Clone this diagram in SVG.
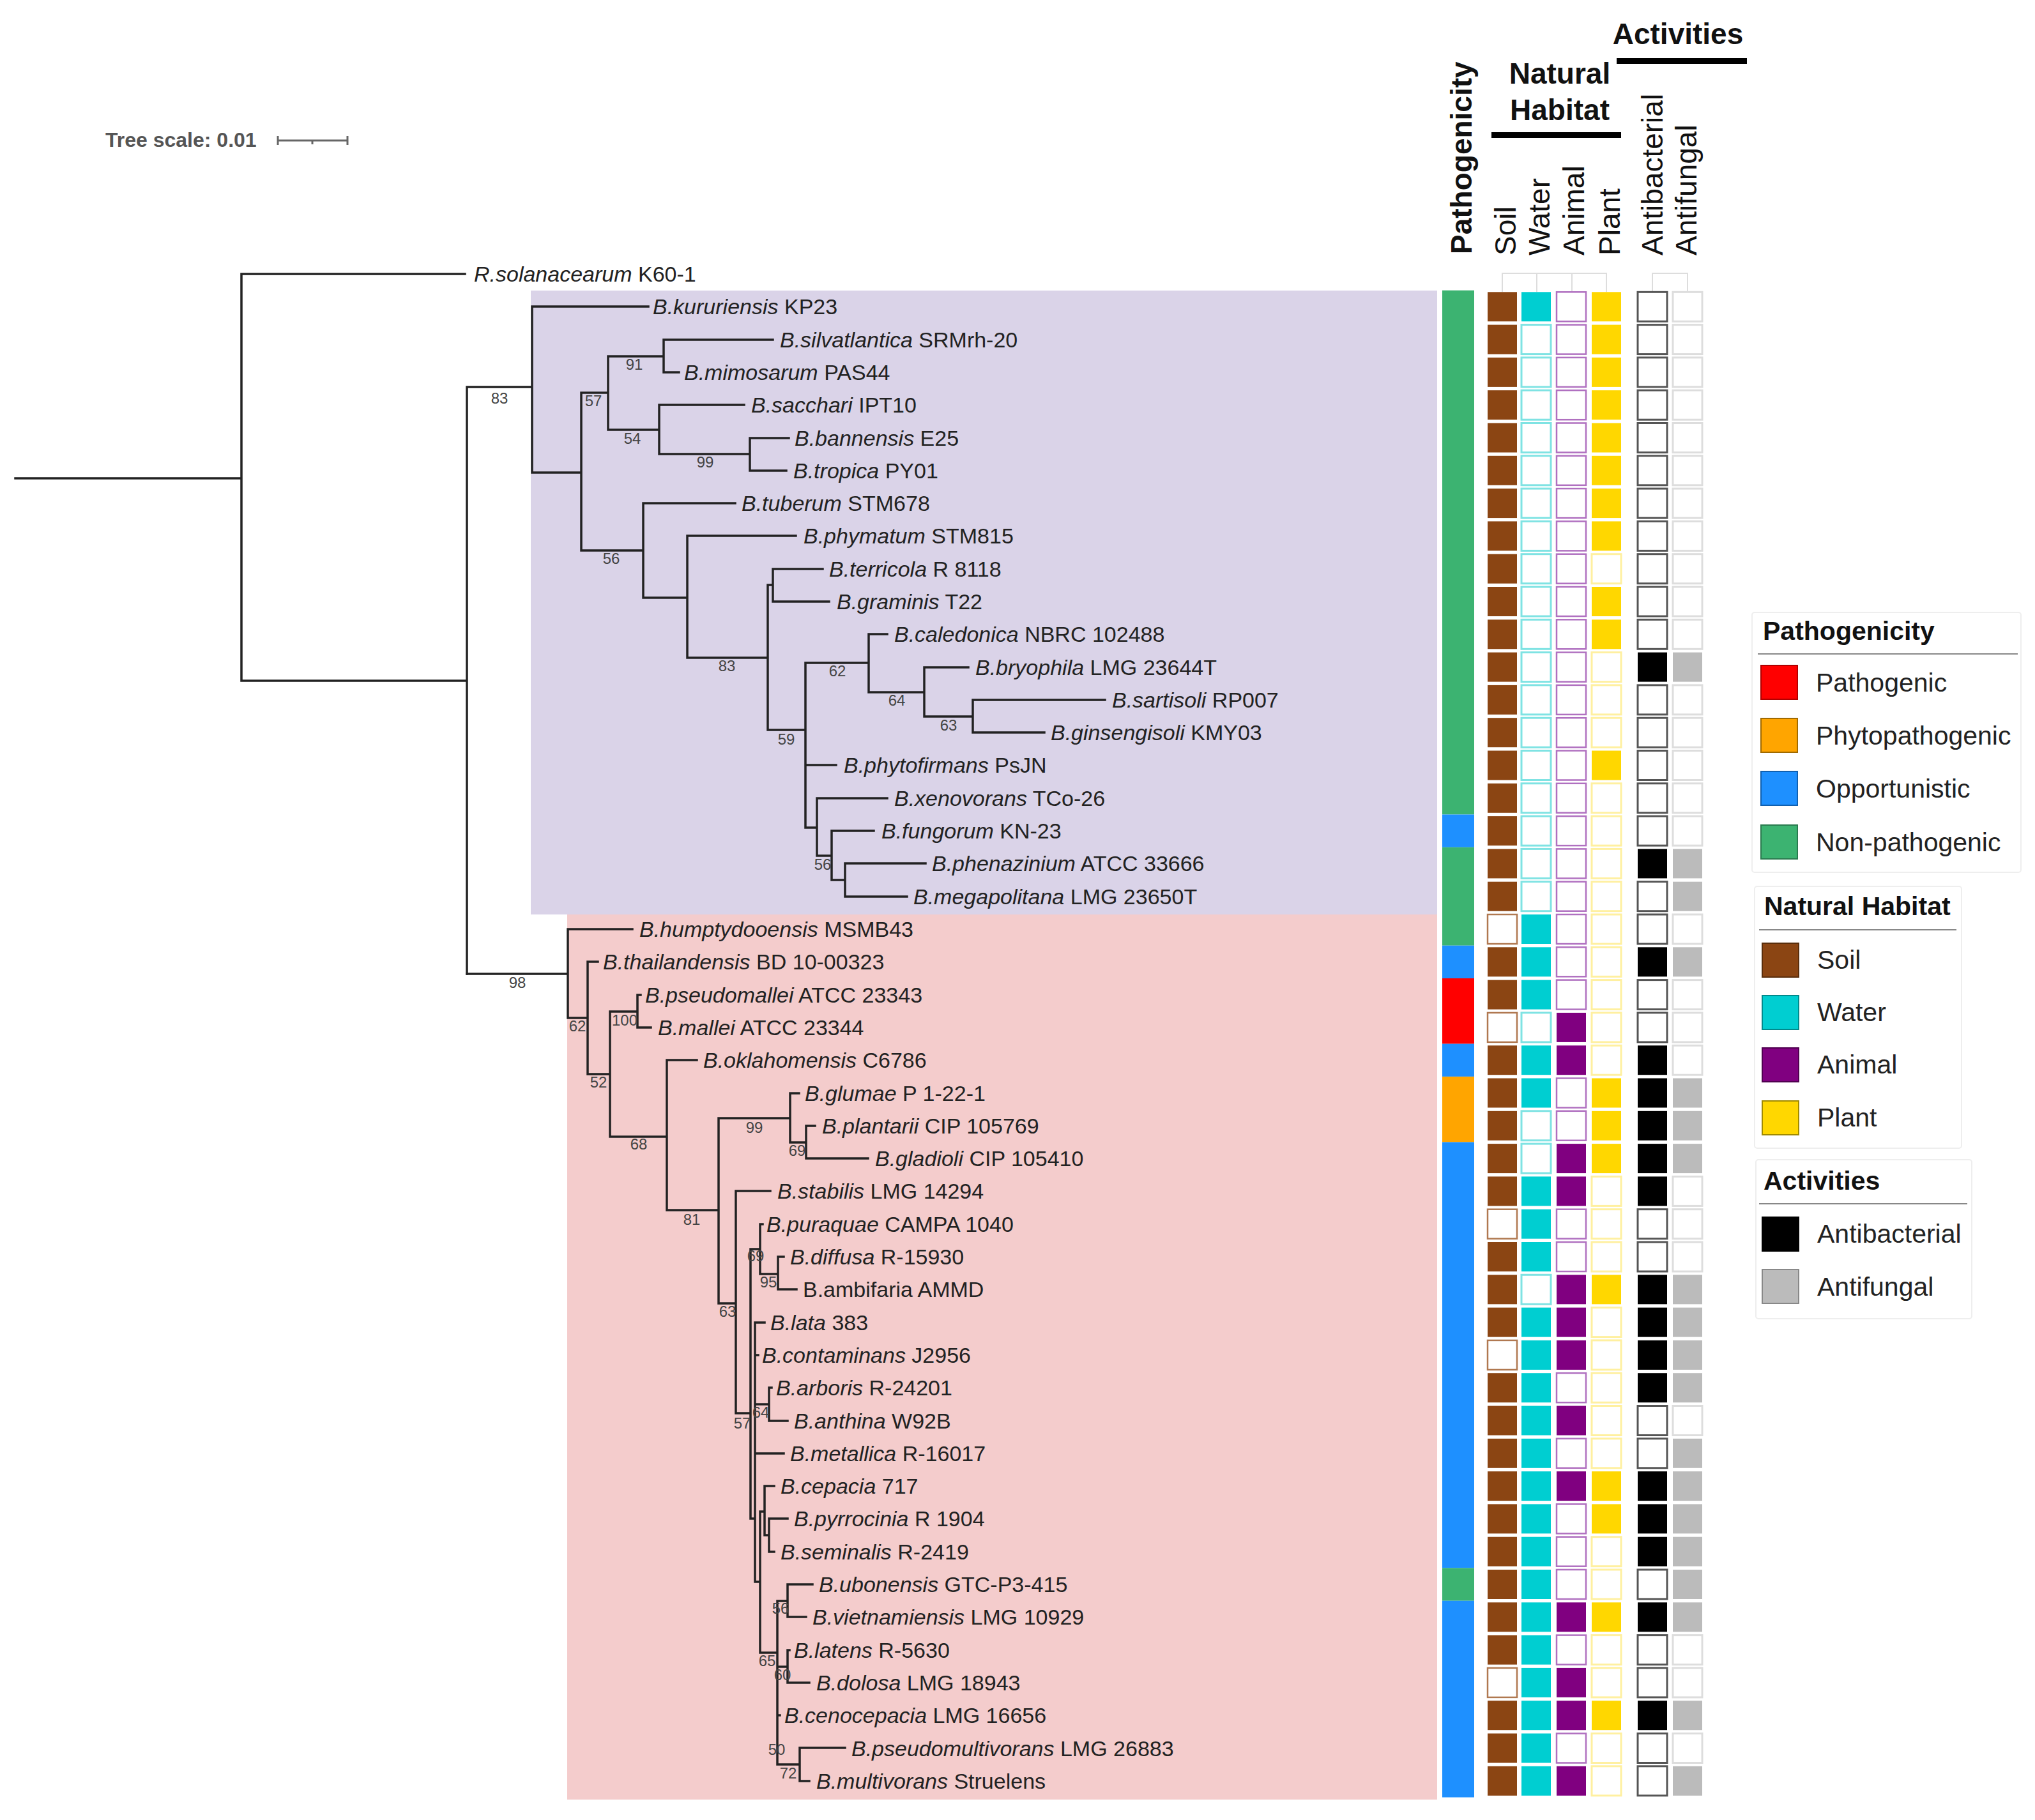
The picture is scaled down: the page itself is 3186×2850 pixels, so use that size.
<svg xmlns="http://www.w3.org/2000/svg" width="3186" height="2850" viewBox="0 0 3186 2850">
<style>
text{font-family:"Liberation Sans",Arial,sans-serif}
.leaf{font-size:34px;fill:#222}
.it{font-style:italic}
.sup{font-size:24px;fill:#444;text-anchor:middle}
.hd{font-size:46px;fill:#111}
.hb{font-size:46px;font-weight:bold;fill:#111}
.lt{font-size:41px;font-weight:bold;fill:#111}
.li{font-size:41px;fill:#222}
.tree{fill:none;stroke:#222;stroke-width:3.5;stroke-linecap:square}
.s1{fill:#8B4513}.s0{fill:#fff;stroke:#B07850;stroke-width:2.5}
.w1{fill:#00CED1}.w0{fill:#fff;stroke:#7FE3E3;stroke-width:3}
.a1{fill:#800080}.a0{fill:#fff;stroke:#B070C0;stroke-width:2.5}
.p1{fill:#FFD700}.p0{fill:#fff;stroke:#FFF0A0;stroke-width:3}
.b1{fill:#000}.b0{fill:#fff;stroke:#555;stroke-width:3}
.f1{fill:#BBBBBB}.f0{fill:#fff;stroke:#DDDDDD;stroke-width:3}
.lg{fill:#fff;stroke:#eeeeee;stroke-width:2}
.ul{stroke:#888;stroke-width:2}
</style>
<rect width="3186" height="2850" fill="#fff"/>
<g id="clade-backgrounds">
<rect x="831" y="455" width="1419" height="977" fill="#DAD3E8"/>
<rect x="888" y="1432" width="1362" height="1386" fill="#F4CCCC"/>
</g>
<g id="tree-scale">
<text x="165" y="230" font-size="32" font-weight="bold" fill="#555">Tree scale: 0.01</text>
<path d="M435,220H544M435,213V227M544,213V227M489,220V226" stroke="#666" stroke-width="3" fill="none"/>
</g>
<g id="connectors">
<path class="tree" d="M24,749H378 M378,429V1066 M378,429H728 M378,1066H731 M731,606V1525 M731,606H833 M833,480V740 M833,480H1015 M833,740H910 M910,615V862 M910,615H952 M952,558V673 M952,558H1039 M1039,532V583 M1039,532H1210 M1039,583H1063 M952,673H1032 M1032,634V711 M1032,634H1165 M1032,711H1174 M1174,686V737 M1174,686H1235 M1174,737H1231 M910,862H1007 M1007,788V936 M1007,788H1151 M1007,936H1076 M1076,839V1030 M1076,839H1246 M1076,1030H1202 M1202,916V1143 M1202,916H1210 M1210,891V942 M1210,891H1288 M1210,942H1298 M1202,1143H1261 M1261,1038V1296 M1261,1038H1360 M1360,993V1084 M1360,993H1389 M1360,1084H1447 M1447,1045V1122 M1447,1045H1516 M1447,1122H1523 M1523,1096V1147 M1523,1096H1730 M1523,1147H1635 M1261,1198H1309 M1261,1296H1279 M1279,1250V1340 M1279,1250H1389 M1279,1340H1302 M1302,1301V1378 M1302,1301H1368 M1302,1378H1323 M1323,1352V1404 M1323,1352H1449 M1323,1404H1420"/>
<path class="tree" d="M731,1525H889 M889,1455V1594 M889,1455H990 M889,1594H920 M920,1506V1682 M920,1506H936 M920,1682H955 M955,1584V1780 M955,1584H998 M998,1558V1609 M998,1558H1003 M998,1609H1019 M955,1780H1044 M1044,1660V1895 M1044,1660H1091 M1044,1895H1125 M1125,1751V2041 M1125,1751H1237 M1237,1712V1789 M1237,1712H1251 M1237,1789H1262 M1262,1763V1814 M1262,1763H1276 M1262,1814H1359 M1125,2041H1152 M1152,1865V2213 M1152,1865H1206 M1152,2213H1175 M1175,1956V2378 M1175,1956H1190 M1190,1917V1995 M1190,1917H1194 M1190,1995H1218 M1218,1968V2019 M1218,1968H1227 M1218,2019H1247 M1175,2378H1182 M1182,2071V2477 M1182,2071H1197 M1182,2122H1187 M1182,2199H1204 M1204,2173V2225 M1204,2173H1208 M1204,2225H1233 M1182,2276H1227 M1182,2477H1190 M1190,2367V2588 M1190,2367H1197 M1197,2327V2404 M1197,2327H1212 M1197,2404H1204 M1204,2378V2430 M1204,2378H1233 M1204,2430H1212 M1190,2588H1217 M1217,2507V2763 M1217,2507H1233 M1233,2481V2532 M1233,2481H1272 M1233,2532H1262 M1217,2610H1233 M1233,2584V2635 M1233,2584H1236 M1233,2635H1267 M1217,2686H1221 M1217,2763H1252 M1252,2737V2789 M1252,2737H1323 M1252,2789H1267"/>
<path d="M2352,457V428H2515V457M2406,428V457M2461,428V457M2587,457V428H2642V457" fill="none" stroke="#dddddd" stroke-width="2"/>
</g>
<g id="support-values" class="sup">
<text x="782" y="632">83</text><text x="993" y="579">91</text><text x="929" y="636">57</text><text x="990" y="695">54</text>
<text x="1104" y="732">99</text><text x="957" y="883">56</text><text x="1138" y="1051">83</text><text x="1231" y="1166">59</text>
<text x="1311" y="1059">62</text><text x="1404" y="1105">64</text><text x="1485" y="1144">63</text><text x="1288" y="1362">56</text>
<text x="810" y="1547">98</text><text x="904" y="1615">62</text><text x="978" y="1606">100</text><text x="937" y="1703">52</text>
<text x="1000" y="1800">68</text><text x="1083" y="1918">81</text><text x="1181" y="1774">99</text><text x="1248" y="1810">69</text>
<text x="1139" y="2062">63</text><text x="1183" y="1975">69</text><text x="1203" y="2016">95</text><text x="1191" y="2220">64</text>
<text x="1162" y="2237">57</text><text x="1222" y="2527">56</text><text x="1201" y="2609">65</text><text x="1225" y="2631">60</text>
<text x="1216" y="2748">50</text><text x="1234" y="2785">72</text>
</g>
<g id="leaves" class="leaf">
<g id="leaf-0"><text x="742" y="441"><tspan class="it">R.solanacearum</tspan> K60-1</text></g>
<g id="leaf-1"><text x="1022" y="492"><tspan class="it">B.kururiensis</tspan> KP23</text></g>
<g id="leaf-2"><text x="1221" y="544"><tspan class="it">B.silvatlantica</tspan> SRMrh-20</text></g>
<g id="leaf-3"><text x="1071" y="595"><tspan class="it">B.mimosarum</tspan> PAS44</text></g>
<g id="leaf-4"><text x="1176" y="646"><tspan class="it">B.sacchari</tspan> IPT10</text></g>
<g id="leaf-5"><text x="1244" y="698"><tspan class="it">B.bannensis</tspan> E25</text></g>
<g id="leaf-6"><text x="1242" y="749"><tspan class="it">B.tropica</tspan> PY01</text></g>
<g id="leaf-7"><text x="1161" y="800"><tspan class="it">B.tuberum</tspan> STM678</text></g>
<g id="leaf-8"><text x="1258" y="851"><tspan class="it">B.phymatum</tspan> STM815</text></g>
<g id="leaf-9"><text x="1298" y="903"><tspan class="it">B.terricola</tspan> R 8118</text></g>
<g id="leaf-10"><text x="1310" y="954"><tspan class="it">B.graminis</tspan> T22</text></g>
<g id="leaf-11"><text x="1400" y="1005"><tspan class="it">B.caledonica</tspan> NBRC 102488</text></g>
<g id="leaf-12"><text x="1527" y="1057"><tspan class="it">B.bryophila</tspan> LMG 23644T</text></g>
<g id="leaf-13"><text x="1741" y="1108"><tspan class="it">B.sartisoli</tspan> RP007</text></g>
<g id="leaf-14"><text x="1645" y="1159"><tspan class="it">B.ginsengisoli</tspan> KMY03</text></g>
<g id="leaf-15"><text x="1321" y="1210"><tspan class="it">B.phytofirmans</tspan> PsJN</text></g>
<g id="leaf-16"><text x="1400" y="1262"><tspan class="it">B.xenovorans</tspan> TCo-26</text></g>
<g id="leaf-17"><text x="1380" y="1313"><tspan class="it">B.fungorum</tspan> KN-23</text></g>
<g id="leaf-18"><text x="1459" y="1364"><tspan class="it">B.phenazinium</tspan> ATCC 33666</text></g>
<g id="leaf-19"><text x="1430" y="1416"><tspan class="it">B.megapolitana</tspan> LMG 23650T</text></g>
<g id="leaf-20"><text x="1001" y="1467"><tspan class="it">B.humptydooensis</tspan> MSMB43</text></g>
<g id="leaf-21"><text x="944" y="1518"><tspan class="it">B.thailandensis</tspan> BD 10-00323</text></g>
<g id="leaf-22"><text x="1010" y="1570"><tspan class="it">B.pseudomallei</tspan> ATCC 23343</text></g>
<g id="leaf-23"><text x="1030" y="1621"><tspan class="it">B.mallei</tspan> ATCC 23344</text></g>
<g id="leaf-24"><text x="1101" y="1672"><tspan class="it">B.oklahomensis</tspan> C6786</text></g>
<g id="leaf-25"><text x="1260" y="1724"><tspan class="it">B.glumae</tspan> P 1-22-1</text></g>
<g id="leaf-26"><text x="1287" y="1775"><tspan class="it">B.plantarii</tspan> CIP 105769</text></g>
<g id="leaf-27"><text x="1370" y="1826"><tspan class="it">B.gladioli</tspan> CIP 105410</text></g>
<g id="leaf-28"><text x="1217" y="1877"><tspan class="it">B.stabilis</tspan> LMG 14294</text></g>
<g id="leaf-29"><text x="1200" y="1929"><tspan class="it">B.puraquae</tspan> CAMPA 1040</text></g>
<g id="leaf-30"><text x="1237" y="1980"><tspan class="it">B.diffusa</tspan> R-15930</text></g>
<g id="leaf-31"><text x="1257" y="2031">B.ambifaria AMMD</text></g>
<g id="leaf-32"><text x="1206" y="2083"><tspan class="it">B.lata</tspan> 383</text></g>
<g id="leaf-33"><text x="1193" y="2134"><tspan class="it">B.contaminans</tspan> J2956</text></g>
<g id="leaf-34"><text x="1215" y="2185"><tspan class="it">B.arboris</tspan> R-24201</text></g>
<g id="leaf-35"><text x="1243" y="2237"><tspan class="it">B.anthina</tspan> W92B</text></g>
<g id="leaf-36"><text x="1237" y="2288"><tspan class="it">B.metallica</tspan> R-16017</text></g>
<g id="leaf-37"><text x="1222" y="2339"><tspan class="it">B.cepacia</tspan> 717</text></g>
<g id="leaf-38"><text x="1243" y="2390"><tspan class="it">B.pyrrocinia</tspan> R 1904</text></g>
<g id="leaf-39"><text x="1222" y="2442"><tspan class="it">B.seminalis</tspan> R-2419</text></g>
<g id="leaf-40"><text x="1282" y="2493"><tspan class="it">B.ubonensis</tspan> GTC-P3-415</text></g>
<g id="leaf-41"><text x="1272" y="2544"><tspan class="it">B.vietnamiensis</tspan> LMG 10929</text></g>
<g id="leaf-42"><text x="1243" y="2596"><tspan class="it">B.latens</tspan> R-5630</text></g>
<g id="leaf-43"><text x="1278" y="2647"><tspan class="it">B.dolosa</tspan> LMG 18943</text></g>
<g id="leaf-44"><text x="1228" y="2698"><tspan class="it">B.cenocepacia</tspan> LMG 16656</text></g>
<g id="leaf-45"><text x="1333" y="2750"><tspan class="it">B.pseudomultivorans</tspan> LMG 26883</text></g>
<g id="leaf-46"><text x="1278" y="2801"><tspan class="it">B.multivorans</tspan> Struelens</text></g>
</g>
<g id="headers">
<text class="hb" transform="translate(2304,398) rotate(-90)">Pathogenicity</text>
<text class="hd" transform="translate(2373,400) rotate(-90)">Soil</text>
<text class="hd" transform="translate(2426,400) rotate(-90)">Water</text>
<text class="hd" transform="translate(2480,400) rotate(-90)">Animal</text>
<text class="hd" transform="translate(2536,400) rotate(-90)">Plant</text>
<text class="hd" transform="translate(2603,400) rotate(-90)">Antibacterial</text>
<text class="hd" transform="translate(2656,400) rotate(-90)">Antifungal</text>
<text class="hb" x="2442" y="131" text-anchor="middle">Natural</text>
<text class="hb" x="2442" y="188" text-anchor="middle">Habitat</text>
<rect x="2335" y="207" width="203" height="9" fill="#000"/>
<text class="hb" x="2627" y="69" text-anchor="middle">Activities</text>
<rect x="2531" y="91" width="204" height="9" fill="#000"/>
</g>
<g id="pathogenicity-strip">
<rect x="2258" y="454.7" width="50" height="820.8" fill="#3CB371"/>
<rect x="2258" y="1275.5" width="50" height="51.3" fill="#1E90FF"/>
<rect x="2258" y="1326.8" width="50" height="153.9" fill="#3CB371"/>
<rect x="2258" y="1480.7" width="50" height="51.3" fill="#1E90FF"/>
<rect x="2258" y="1532" width="50" height="102.6" fill="#FF0000"/>
<rect x="2258" y="1634.6" width="50" height="51.3" fill="#1E90FF"/>
<rect x="2258" y="1685.9" width="50" height="102.6" fill="#FFA500"/>
<rect x="2258" y="1788.5" width="50" height="666.9" fill="#1E90FF"/>
<rect x="2258" y="2455.4" width="50" height="51.3" fill="#3CB371"/>
<rect x="2258" y="2506.7" width="50" height="307.8" fill="#1E90FF"/>
</g>
<g id="heatmap">
<g transform="translate(0,457.3)"><rect class="s1" x="2329" width="46" height="46"/><rect class="w1" x="2382" width="46" height="46"/><rect class="a0" x="2437" width="46" height="46"/><rect class="p1" x="2492" width="46" height="46"/><rect class="b0" x="2564" width="46" height="46"/><rect class="f0" x="2619" width="46" height="46"/></g>
<g transform="translate(0,508.6)"><rect class="s1" x="2329" width="46" height="46"/><rect class="w0" x="2382" width="46" height="46"/><rect class="a0" x="2437" width="46" height="46"/><rect class="p1" x="2492" width="46" height="46"/><rect class="b0" x="2564" width="46" height="46"/><rect class="f0" x="2619" width="46" height="46"/></g>
<g transform="translate(0,559.9)"><rect class="s1" x="2329" width="46" height="46"/><rect class="w0" x="2382" width="46" height="46"/><rect class="a0" x="2437" width="46" height="46"/><rect class="p1" x="2492" width="46" height="46"/><rect class="b0" x="2564" width="46" height="46"/><rect class="f0" x="2619" width="46" height="46"/></g>
<g transform="translate(0,611.2)"><rect class="s1" x="2329" width="46" height="46"/><rect class="w0" x="2382" width="46" height="46"/><rect class="a0" x="2437" width="46" height="46"/><rect class="p1" x="2492" width="46" height="46"/><rect class="b0" x="2564" width="46" height="46"/><rect class="f0" x="2619" width="46" height="46"/></g>
<g transform="translate(0,662.5)"><rect class="s1" x="2329" width="46" height="46"/><rect class="w0" x="2382" width="46" height="46"/><rect class="a0" x="2437" width="46" height="46"/><rect class="p1" x="2492" width="46" height="46"/><rect class="b0" x="2564" width="46" height="46"/><rect class="f0" x="2619" width="46" height="46"/></g>
<g transform="translate(0,713.8)"><rect class="s1" x="2329" width="46" height="46"/><rect class="w0" x="2382" width="46" height="46"/><rect class="a0" x="2437" width="46" height="46"/><rect class="p1" x="2492" width="46" height="46"/><rect class="b0" x="2564" width="46" height="46"/><rect class="f0" x="2619" width="46" height="46"/></g>
<g transform="translate(0,765.1)"><rect class="s1" x="2329" width="46" height="46"/><rect class="w0" x="2382" width="46" height="46"/><rect class="a0" x="2437" width="46" height="46"/><rect class="p1" x="2492" width="46" height="46"/><rect class="b0" x="2564" width="46" height="46"/><rect class="f0" x="2619" width="46" height="46"/></g>
<g transform="translate(0,816.4)"><rect class="s1" x="2329" width="46" height="46"/><rect class="w0" x="2382" width="46" height="46"/><rect class="a0" x="2437" width="46" height="46"/><rect class="p1" x="2492" width="46" height="46"/><rect class="b0" x="2564" width="46" height="46"/><rect class="f0" x="2619" width="46" height="46"/></g>
<g transform="translate(0,867.7)"><rect class="s1" x="2329" width="46" height="46"/><rect class="w0" x="2382" width="46" height="46"/><rect class="a0" x="2437" width="46" height="46"/><rect class="p0" x="2492" width="46" height="46"/><rect class="b0" x="2564" width="46" height="46"/><rect class="f0" x="2619" width="46" height="46"/></g>
<g transform="translate(0,919)"><rect class="s1" x="2329" width="46" height="46"/><rect class="w0" x="2382" width="46" height="46"/><rect class="a0" x="2437" width="46" height="46"/><rect class="p1" x="2492" width="46" height="46"/><rect class="b0" x="2564" width="46" height="46"/><rect class="f0" x="2619" width="46" height="46"/></g>
<g transform="translate(0,970.3)"><rect class="s1" x="2329" width="46" height="46"/><rect class="w0" x="2382" width="46" height="46"/><rect class="a0" x="2437" width="46" height="46"/><rect class="p1" x="2492" width="46" height="46"/><rect class="b0" x="2564" width="46" height="46"/><rect class="f0" x="2619" width="46" height="46"/></g>
<g transform="translate(0,1021.6)"><rect class="s1" x="2329" width="46" height="46"/><rect class="w0" x="2382" width="46" height="46"/><rect class="a0" x="2437" width="46" height="46"/><rect class="p0" x="2492" width="46" height="46"/><rect class="b1" x="2564" width="46" height="46"/><rect class="f1" x="2619" width="46" height="46"/></g>
<g transform="translate(0,1072.9)"><rect class="s1" x="2329" width="46" height="46"/><rect class="w0" x="2382" width="46" height="46"/><rect class="a0" x="2437" width="46" height="46"/><rect class="p0" x="2492" width="46" height="46"/><rect class="b0" x="2564" width="46" height="46"/><rect class="f0" x="2619" width="46" height="46"/></g>
<g transform="translate(0,1124.2)"><rect class="s1" x="2329" width="46" height="46"/><rect class="w0" x="2382" width="46" height="46"/><rect class="a0" x="2437" width="46" height="46"/><rect class="p0" x="2492" width="46" height="46"/><rect class="b0" x="2564" width="46" height="46"/><rect class="f0" x="2619" width="46" height="46"/></g>
<g transform="translate(0,1175.5)"><rect class="s1" x="2329" width="46" height="46"/><rect class="w0" x="2382" width="46" height="46"/><rect class="a0" x="2437" width="46" height="46"/><rect class="p1" x="2492" width="46" height="46"/><rect class="b0" x="2564" width="46" height="46"/><rect class="f0" x="2619" width="46" height="46"/></g>
<g transform="translate(0,1226.8)"><rect class="s1" x="2329" width="46" height="46"/><rect class="w0" x="2382" width="46" height="46"/><rect class="a0" x="2437" width="46" height="46"/><rect class="p0" x="2492" width="46" height="46"/><rect class="b0" x="2564" width="46" height="46"/><rect class="f0" x="2619" width="46" height="46"/></g>
<g transform="translate(0,1278.1)"><rect class="s1" x="2329" width="46" height="46"/><rect class="w0" x="2382" width="46" height="46"/><rect class="a0" x="2437" width="46" height="46"/><rect class="p0" x="2492" width="46" height="46"/><rect class="b0" x="2564" width="46" height="46"/><rect class="f0" x="2619" width="46" height="46"/></g>
<g transform="translate(0,1329.4)"><rect class="s1" x="2329" width="46" height="46"/><rect class="w0" x="2382" width="46" height="46"/><rect class="a0" x="2437" width="46" height="46"/><rect class="p0" x="2492" width="46" height="46"/><rect class="b1" x="2564" width="46" height="46"/><rect class="f1" x="2619" width="46" height="46"/></g>
<g transform="translate(0,1380.7)"><rect class="s1" x="2329" width="46" height="46"/><rect class="w0" x="2382" width="46" height="46"/><rect class="a0" x="2437" width="46" height="46"/><rect class="p0" x="2492" width="46" height="46"/><rect class="b0" x="2564" width="46" height="46"/><rect class="f1" x="2619" width="46" height="46"/></g>
<g transform="translate(0,1432)"><rect class="s0" x="2329" width="46" height="46"/><rect class="w1" x="2382" width="46" height="46"/><rect class="a0" x="2437" width="46" height="46"/><rect class="p0" x="2492" width="46" height="46"/><rect class="b0" x="2564" width="46" height="46"/><rect class="f0" x="2619" width="46" height="46"/></g>
<g transform="translate(0,1483.3)"><rect class="s1" x="2329" width="46" height="46"/><rect class="w1" x="2382" width="46" height="46"/><rect class="a0" x="2437" width="46" height="46"/><rect class="p0" x="2492" width="46" height="46"/><rect class="b1" x="2564" width="46" height="46"/><rect class="f1" x="2619" width="46" height="46"/></g>
<g transform="translate(0,1534.6)"><rect class="s1" x="2329" width="46" height="46"/><rect class="w1" x="2382" width="46" height="46"/><rect class="a0" x="2437" width="46" height="46"/><rect class="p0" x="2492" width="46" height="46"/><rect class="b0" x="2564" width="46" height="46"/><rect class="f0" x="2619" width="46" height="46"/></g>
<g transform="translate(0,1585.9)"><rect class="s0" x="2329" width="46" height="46"/><rect class="w0" x="2382" width="46" height="46"/><rect class="a1" x="2437" width="46" height="46"/><rect class="p0" x="2492" width="46" height="46"/><rect class="b0" x="2564" width="46" height="46"/><rect class="f0" x="2619" width="46" height="46"/></g>
<g transform="translate(0,1637.2)"><rect class="s1" x="2329" width="46" height="46"/><rect class="w1" x="2382" width="46" height="46"/><rect class="a1" x="2437" width="46" height="46"/><rect class="p0" x="2492" width="46" height="46"/><rect class="b1" x="2564" width="46" height="46"/><rect class="f0" x="2619" width="46" height="46"/></g>
<g transform="translate(0,1688.5)"><rect class="s1" x="2329" width="46" height="46"/><rect class="w1" x="2382" width="46" height="46"/><rect class="a0" x="2437" width="46" height="46"/><rect class="p1" x="2492" width="46" height="46"/><rect class="b1" x="2564" width="46" height="46"/><rect class="f1" x="2619" width="46" height="46"/></g>
<g transform="translate(0,1739.8)"><rect class="s1" x="2329" width="46" height="46"/><rect class="w0" x="2382" width="46" height="46"/><rect class="a0" x="2437" width="46" height="46"/><rect class="p1" x="2492" width="46" height="46"/><rect class="b1" x="2564" width="46" height="46"/><rect class="f1" x="2619" width="46" height="46"/></g>
<g transform="translate(0,1791.1)"><rect class="s1" x="2329" width="46" height="46"/><rect class="w0" x="2382" width="46" height="46"/><rect class="a1" x="2437" width="46" height="46"/><rect class="p1" x="2492" width="46" height="46"/><rect class="b1" x="2564" width="46" height="46"/><rect class="f1" x="2619" width="46" height="46"/></g>
<g transform="translate(0,1842.4)"><rect class="s1" x="2329" width="46" height="46"/><rect class="w1" x="2382" width="46" height="46"/><rect class="a1" x="2437" width="46" height="46"/><rect class="p0" x="2492" width="46" height="46"/><rect class="b1" x="2564" width="46" height="46"/><rect class="f0" x="2619" width="46" height="46"/></g>
<g transform="translate(0,1893.7)"><rect class="s0" x="2329" width="46" height="46"/><rect class="w1" x="2382" width="46" height="46"/><rect class="a0" x="2437" width="46" height="46"/><rect class="p0" x="2492" width="46" height="46"/><rect class="b0" x="2564" width="46" height="46"/><rect class="f0" x="2619" width="46" height="46"/></g>
<g transform="translate(0,1945)"><rect class="s1" x="2329" width="46" height="46"/><rect class="w1" x="2382" width="46" height="46"/><rect class="a0" x="2437" width="46" height="46"/><rect class="p0" x="2492" width="46" height="46"/><rect class="b0" x="2564" width="46" height="46"/><rect class="f0" x="2619" width="46" height="46"/></g>
<g transform="translate(0,1996.3)"><rect class="s1" x="2329" width="46" height="46"/><rect class="w0" x="2382" width="46" height="46"/><rect class="a1" x="2437" width="46" height="46"/><rect class="p1" x="2492" width="46" height="46"/><rect class="b1" x="2564" width="46" height="46"/><rect class="f1" x="2619" width="46" height="46"/></g>
<g transform="translate(0,2047.6)"><rect class="s1" x="2329" width="46" height="46"/><rect class="w1" x="2382" width="46" height="46"/><rect class="a1" x="2437" width="46" height="46"/><rect class="p0" x="2492" width="46" height="46"/><rect class="b1" x="2564" width="46" height="46"/><rect class="f1" x="2619" width="46" height="46"/></g>
<g transform="translate(0,2098.9)"><rect class="s0" x="2329" width="46" height="46"/><rect class="w1" x="2382" width="46" height="46"/><rect class="a1" x="2437" width="46" height="46"/><rect class="p0" x="2492" width="46" height="46"/><rect class="b1" x="2564" width="46" height="46"/><rect class="f1" x="2619" width="46" height="46"/></g>
<g transform="translate(0,2150.2)"><rect class="s1" x="2329" width="46" height="46"/><rect class="w1" x="2382" width="46" height="46"/><rect class="a0" x="2437" width="46" height="46"/><rect class="p0" x="2492" width="46" height="46"/><rect class="b1" x="2564" width="46" height="46"/><rect class="f1" x="2619" width="46" height="46"/></g>
<g transform="translate(0,2201.5)"><rect class="s1" x="2329" width="46" height="46"/><rect class="w1" x="2382" width="46" height="46"/><rect class="a1" x="2437" width="46" height="46"/><rect class="p0" x="2492" width="46" height="46"/><rect class="b0" x="2564" width="46" height="46"/><rect class="f0" x="2619" width="46" height="46"/></g>
<g transform="translate(0,2252.8)"><rect class="s1" x="2329" width="46" height="46"/><rect class="w1" x="2382" width="46" height="46"/><rect class="a0" x="2437" width="46" height="46"/><rect class="p0" x="2492" width="46" height="46"/><rect class="b0" x="2564" width="46" height="46"/><rect class="f1" x="2619" width="46" height="46"/></g>
<g transform="translate(0,2304.1)"><rect class="s1" x="2329" width="46" height="46"/><rect class="w1" x="2382" width="46" height="46"/><rect class="a1" x="2437" width="46" height="46"/><rect class="p1" x="2492" width="46" height="46"/><rect class="b1" x="2564" width="46" height="46"/><rect class="f1" x="2619" width="46" height="46"/></g>
<g transform="translate(0,2355.4)"><rect class="s1" x="2329" width="46" height="46"/><rect class="w1" x="2382" width="46" height="46"/><rect class="a0" x="2437" width="46" height="46"/><rect class="p1" x="2492" width="46" height="46"/><rect class="b1" x="2564" width="46" height="46"/><rect class="f1" x="2619" width="46" height="46"/></g>
<g transform="translate(0,2406.7)"><rect class="s1" x="2329" width="46" height="46"/><rect class="w1" x="2382" width="46" height="46"/><rect class="a0" x="2437" width="46" height="46"/><rect class="p0" x="2492" width="46" height="46"/><rect class="b1" x="2564" width="46" height="46"/><rect class="f1" x="2619" width="46" height="46"/></g>
<g transform="translate(0,2458)"><rect class="s1" x="2329" width="46" height="46"/><rect class="w1" x="2382" width="46" height="46"/><rect class="a0" x="2437" width="46" height="46"/><rect class="p0" x="2492" width="46" height="46"/><rect class="b0" x="2564" width="46" height="46"/><rect class="f1" x="2619" width="46" height="46"/></g>
<g transform="translate(0,2509.3)"><rect class="s1" x="2329" width="46" height="46"/><rect class="w1" x="2382" width="46" height="46"/><rect class="a1" x="2437" width="46" height="46"/><rect class="p1" x="2492" width="46" height="46"/><rect class="b1" x="2564" width="46" height="46"/><rect class="f1" x="2619" width="46" height="46"/></g>
<g transform="translate(0,2560.6)"><rect class="s1" x="2329" width="46" height="46"/><rect class="w1" x="2382" width="46" height="46"/><rect class="a0" x="2437" width="46" height="46"/><rect class="p0" x="2492" width="46" height="46"/><rect class="b0" x="2564" width="46" height="46"/><rect class="f0" x="2619" width="46" height="46"/></g>
<g transform="translate(0,2611.9)"><rect class="s0" x="2329" width="46" height="46"/><rect class="w1" x="2382" width="46" height="46"/><rect class="a1" x="2437" width="46" height="46"/><rect class="p0" x="2492" width="46" height="46"/><rect class="b0" x="2564" width="46" height="46"/><rect class="f0" x="2619" width="46" height="46"/></g>
<g transform="translate(0,2663.2)"><rect class="s1" x="2329" width="46" height="46"/><rect class="w1" x="2382" width="46" height="46"/><rect class="a1" x="2437" width="46" height="46"/><rect class="p1" x="2492" width="46" height="46"/><rect class="b1" x="2564" width="46" height="46"/><rect class="f1" x="2619" width="46" height="46"/></g>
<g transform="translate(0,2714.5)"><rect class="s1" x="2329" width="46" height="46"/><rect class="w1" x="2382" width="46" height="46"/><rect class="a0" x="2437" width="46" height="46"/><rect class="p0" x="2492" width="46" height="46"/><rect class="b0" x="2564" width="46" height="46"/><rect class="f0" x="2619" width="46" height="46"/></g>
<g transform="translate(0,2765.8)"><rect class="s1" x="2329" width="46" height="46"/><rect class="w1" x="2382" width="46" height="46"/><rect class="a1" x="2437" width="46" height="46"/><rect class="p0" x="2492" width="46" height="46"/><rect class="b0" x="2564" width="46" height="46"/><rect class="f1" x="2619" width="46" height="46"/></g>
</g>
<g id="legend-pathogenicity">
<rect class="lg" x="2743" y="959" width="421" height="407" rx="4"/>
<text class="lt" x="2760" y="1002">Pathogenicity</text>
<line class="ul" x1="2752" y1="1024" x2="3159" y2="1024"/>
<rect x="2757" y="1042" width="57" height="53" fill="#FF0000" stroke="#B00000" stroke-width="2"/><text class="li" x="2843" y="1083">Pathogenic</text>
<rect x="2757" y="1125" width="57" height="53" fill="#FFA500" stroke="#A06A00" stroke-width="2"/><text class="li" x="2843" y="1166">Phytopathogenic</text>
<rect x="2757" y="1208" width="57" height="53" fill="#1E90FF" stroke="#1060B0" stroke-width="2"/><text class="li" x="2843" y="1249">Opportunistic</text>
<rect x="2757" y="1292" width="57" height="53" fill="#3CB371" stroke="#2A7A4F" stroke-width="2"/><text class="li" x="2843" y="1333">Non-pathogenic</text>
</g>
<g id="legend-habitat">
<rect class="lg" x="2747" y="1388" width="324" height="410" rx="4"/>
<text class="lt" x="2762" y="1433">Natural Habitat</text>
<line class="ul" x1="2754" y1="1456" x2="3063" y2="1456"/>
<rect x="2759" y="1477" width="57" height="53" fill="#8B4513" stroke="#5A2E0C" stroke-width="2"/><text class="li" x="2845" y="1517">Soil</text>
<rect x="2759" y="1559" width="57" height="53" fill="#00CED1" stroke="#008A8C" stroke-width="2"/><text class="li" x="2845" y="1599">Water</text>
<rect x="2759" y="1641" width="57" height="53" fill="#800080" stroke="#500050" stroke-width="2"/><text class="li" x="2845" y="1681">Animal</text>
<rect x="2759" y="1724" width="57" height="53" fill="#FFD700" stroke="#A08A00" stroke-width="2"/><text class="li" x="2845" y="1764">Plant</text>
</g>
<g id="legend-activities">
<rect class="lg" x="2749" y="1816" width="338" height="249" rx="4"/>
<text class="lt" x="2761" y="1863">Activities</text>
<line class="ul" x1="2754" y1="1885" x2="3080" y2="1885"/>
<rect x="2759" y="1906" width="57" height="53" fill="#000" stroke="#000" stroke-width="2"/><text class="li" x="2845" y="1946">Antibacterial</text>
<rect x="2759" y="1988" width="57" height="53" fill="#BBBBBB" stroke="#888" stroke-width="2"/><text class="li" x="2845" y="2029">Antifungal</text>
</g>
</svg>
